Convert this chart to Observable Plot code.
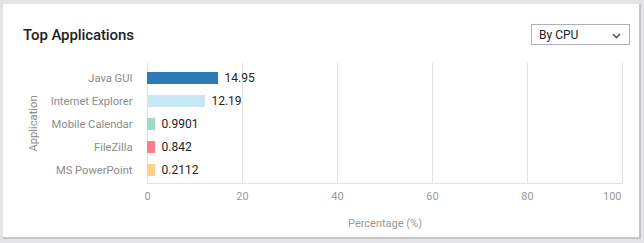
<!DOCTYPE html>
<html>
<head>
<meta charset="utf-8">
<script src="https://cdn.jsdelivr.net/npm/d3@7"></script>
<script src="https://cdn.jsdelivr.net/npm/@observablehq/plot@0.6"></script>
<style>
  html, body { margin: 0; padding: 0; }
  body { width: 644px; height: 243px; background: #e4e4e6; position: relative; overflow: hidden; font-family: Roboto, "Noto Sans", sans-serif; }
  #card { position: absolute; left: 3px; top: 4px; width: 636px; height: 233px; background: #fff; border-right: 2px solid #c4c4c6; border-bottom: 2px solid #c4c4c6; }
  #title { position: absolute; left: 23px; top: 26px; font-size: 15px; font-weight: 500; color: #222; letter-spacing: -0.1px; }
  #select { position: absolute; left: 531px; top: 24px; width: 97px; height: 19px; border: 1px solid #a9afc4; background: #fff; font-size: 12px; color: #222; box-sizing: content-box; }
  #select span { position: absolute; left: 7px; top: 3px; }
  #select svg { position: absolute; right: 8px; top: 8px; }
  #chart { position: absolute; left: 0; top: 0; }
</style>
</head>
<body>
<div id="card"></div>
<div id="title">Top Applications</div>
<div id="select"><span>By CPU</span><svg width="9" height="6" viewBox="0 0 9 6"><polyline points="1,1 4.5,4.5 8,1" fill="none" stroke="#555" stroke-width="1.6"/></svg></div>
<div id="chart"></div>
<script>
const applications = ["Java GUI", "Internet Explorer", "Mobile Calendar", "FileZilla", "MS PowerPoint"];
const percentages = [14.95, 12.19, 0.9901, 0.842, 0.2112];
const valueLabels = ["14.95", "12.19", "0.9901", "0.842", "0.2112"];
const barColors = ["#2c7bb6", "#c7e7f2", "#9cdccb", "#ff7d8b", "#fdd38b"];
const xTicks = [0, 20, 40, 60, 80, 100];
// the source chart draws very small bars with a minimum visible length (in % units)
const minBarLength = 1.7;

const data = applications.map((a, i) => ({app: a, value: percentages[i], label: valueLabels[i], color: barColors[i]}));
const shown = d => Math.max(d.value, minBarLength);

const plot = Plot.plot({
  width: 644,
  height: 243,
  marginLeft: 147,
  marginRight: 22,
  marginTop: 63,
  marginBottom: 60,
  style: {background: "transparent", fontFamily: "Roboto, 'Noto Sans', sans-serif"},
  x: {domain: [0, 100], label: "Percentage (%)", labelArrow: "none"},
  y: {domain: applications, paddingInner: 0.49, paddingOuter: 0.245, insetTop: 2},
  marks: [
    Plot.ruleX(xTicks, {stroke: "#e2e2e2", strokeWidth: 1}),
    Plot.frame({anchor: "bottom", stroke: "#e2e2e2"}),
    Plot.barX(data, {y: "app", x: shown, fill: "color"}),
    Plot.text(data, {y: "app", x: shown, text: "label", dx: 6, textAnchor: "start", fontSize: 12, fill: "#222"}),
    Plot.axisY({tickSize: 0, tickPadding: 15, fontSize: 11.2, color: "#8c8c8c", label: "Application", labelAnchor: "center", labelOffset: 118}),
    Plot.axisX(xTicks.slice(0, 5), {tickSize: 0, tickPadding: 9, fontSize: 11, color: "#999", label: null}),
    Plot.axisX(xTicks.slice(5), {tickSize: 0, tickPadding: 9, fontSize: 11, color: "#999", textAnchor: "end", dx: -1, label: "Percentage (%)", labelArrow: "none", labelAnchor: "center", labelOffset: 43})
  ]
});
document.getElementById("chart").appendChild(plot);
</script>
</body>
</html>
